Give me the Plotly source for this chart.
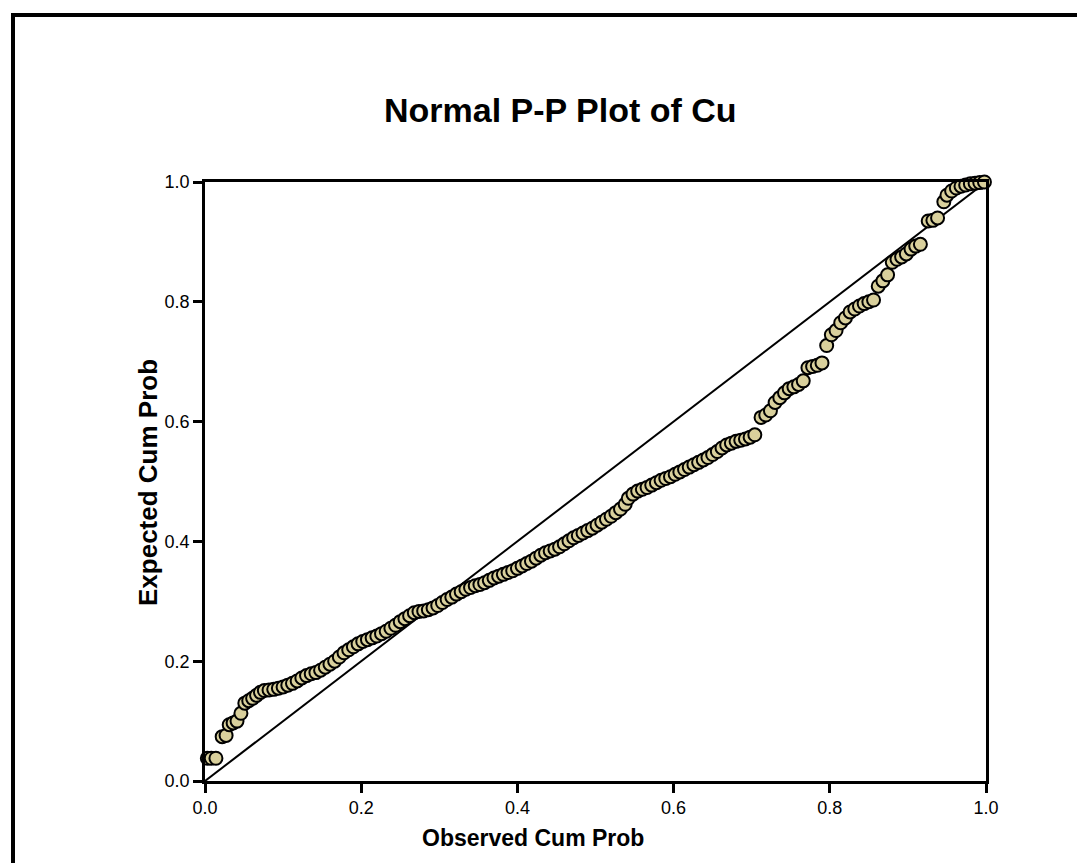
import plotly.graph_objects as go

# Observed cumulative probability (x) and expected cumulative probability (y)
observed_cum_prob = [
    0.003, 0.008, 0.014, 0.022, 0.027, 0.031, 0.036, 0.041, 0.046, 0.051,
    0.056, 0.061, 0.066, 0.071, 0.076, 0.082, 0.088, 0.094, 0.100, 0.106,
    0.112, 0.118, 0.124, 0.130, 0.136, 0.142, 0.148, 0.154, 0.160, 0.166,
    0.172, 0.178, 0.184, 0.190, 0.196, 0.202, 0.208, 0.214, 0.220, 0.226,
    0.232, 0.238, 0.244, 0.250, 0.256, 0.262, 0.268, 0.274, 0.280, 0.286,
    0.292, 0.298, 0.304, 0.310, 0.316, 0.322, 0.328, 0.334, 0.340, 0.346,
    0.352, 0.358, 0.364, 0.370, 0.376, 0.382, 0.388, 0.394, 0.400, 0.406,
    0.412, 0.418, 0.424, 0.430, 0.436, 0.442, 0.448, 0.454, 0.460, 0.466,
    0.472, 0.478, 0.484, 0.490, 0.496, 0.502, 0.508, 0.514, 0.520, 0.526,
    0.532, 0.538, 0.542, 0.548, 0.554, 0.560, 0.566, 0.572, 0.578, 0.584,
    0.590, 0.596, 0.602, 0.608, 0.614, 0.620, 0.626, 0.632, 0.638, 0.644,
    0.650, 0.656, 0.662, 0.668, 0.674, 0.680, 0.686, 0.692, 0.698, 0.704,
    0.712, 0.718, 0.724, 0.730, 0.736, 0.742, 0.748, 0.754, 0.760, 0.766,
    0.772, 0.778, 0.784, 0.790, 0.796, 0.802, 0.808, 0.814, 0.820, 0.826,
    0.832, 0.838, 0.844, 0.850, 0.856, 0.862, 0.868, 0.874, 0.880, 0.886,
    0.892, 0.898, 0.904, 0.910, 0.916, 0.926, 0.932, 0.938, 0.946, 0.950,
    0.956, 0.962, 0.968, 0.974, 0.980, 0.986, 0.992, 0.998,
]
expected_cum_prob = [
    0.038, 0.038, 0.038, 0.074, 0.076, 0.094, 0.097, 0.100, 0.113, 0.130,
    0.134, 0.138, 0.143, 0.148, 0.151, 0.152, 0.153, 0.155, 0.157, 0.160,
    0.163, 0.167, 0.172, 0.176, 0.179, 0.181, 0.185, 0.190, 0.195, 0.200,
    0.207, 0.214, 0.219, 0.224, 0.229, 0.233, 0.236, 0.239, 0.242, 0.246,
    0.250, 0.255, 0.260, 0.266, 0.271, 0.276, 0.281, 0.283, 0.284, 0.286,
    0.289, 0.293, 0.298, 0.303, 0.307, 0.312, 0.316, 0.320, 0.323, 0.326,
    0.328, 0.331, 0.335, 0.339, 0.342, 0.345, 0.348, 0.351, 0.355, 0.359,
    0.363, 0.367, 0.372, 0.377, 0.381, 0.384, 0.387, 0.391, 0.396, 0.401,
    0.406, 0.410, 0.414, 0.418, 0.422, 0.427, 0.432, 0.437, 0.442, 0.448,
    0.454, 0.462, 0.472, 0.479, 0.484, 0.487, 0.490, 0.494, 0.498, 0.502,
    0.505, 0.508, 0.512, 0.516, 0.520, 0.524, 0.528, 0.532, 0.536, 0.540,
    0.545, 0.550, 0.556, 0.561, 0.564, 0.567, 0.569, 0.571, 0.574, 0.578,
    0.607, 0.611, 0.618, 0.632, 0.640, 0.648, 0.655, 0.658, 0.662, 0.668,
    0.690, 0.692, 0.694, 0.698, 0.727, 0.745, 0.752, 0.765, 0.773, 0.783,
    0.788, 0.793, 0.797, 0.800, 0.803, 0.826, 0.835, 0.845, 0.866, 0.871,
    0.875, 0.880, 0.888, 0.893, 0.896, 0.935, 0.936, 0.940, 0.967, 0.978,
    0.985, 0.990, 0.993, 0.995, 0.997, 0.998, 0.999, 1.000,
]
reference_line = [0.0, 1.0]
tick_values = [0.0, 0.2, 0.4, 0.6, 0.8, 1.0]
tick_labels = ["0.0", "0.2", "0.4", "0.6", "0.8", "1.0"]

W, H = 1085, 863
L, R, T, B = 197, 978, 174, 773  # plot area pixel edges


def px_x(p):
    return (p - L) / (R - L)


def px_y(p):
    return (B - p) / (B - T)


fig = go.Figure()
fig.add_trace(go.Scatter(
    x=reference_line, y=reference_line, mode="lines",
    line=dict(color="black", width=2), hoverinfo="skip", showlegend=False,
))
fig.add_trace(go.Scatter(
    x=observed_cum_prob, y=expected_cum_prob, mode="markers",
    marker=dict(size=13, color="#d9d09c", line=dict(color="black", width=2)),
    showlegend=False, cliponaxis=False,
))

font = "Liberation Sans, Arial, sans-serif"
axis_common = dict(
    range=[0, 1], tickvals=tick_values, ticktext=tick_labels,
    showgrid=False, zeroline=False, showline=True, linecolor="black",
    linewidth=2.5, mirror=True, ticks="outside", ticklen=9, tickwidth=2.5,
    tickcolor="black", tickfont=dict(family=font, size=18, color="black"),
)
fig.update_xaxes(**axis_common)
fig.update_yaxes(**axis_common)

fig.update_layout(
    width=W, height=H,
    margin=dict(l=L, r=W - R, t=T, b=H - B, pad=0),
    plot_bgcolor="white", paper_bgcolor="white",
    font=dict(family=font, color="black"),
    annotations=[
        dict(text="<b>Normal P-P Plot of Cu</b>", x=px_x(552), y=px_y(102),
             xref="paper", yref="paper", showarrow=False,
             xanchor="center", yanchor="middle", font=dict(size=34)),
        dict(text="<b>Observed Cum Prob</b>", x=px_x(525), y=px_y(830),
             xref="paper", yref="paper", showarrow=False,
             xanchor="center", yanchor="middle", font=dict(size=23)),
        dict(text="<b>Expected Cum Prob</b>", x=px_x(140), y=px_y(475),
             xref="paper", yref="paper", showarrow=False, textangle=-90,
             xanchor="center", yanchor="middle", font=dict(size=26)),
    ],
    shapes=[
        dict(type="line", xref="paper", yref="paper",
             x0=px_x(5), x1=px_x(5), y0=px_y(5), y1=px_y(870),
             line=dict(color="black", width=4)),
        dict(type="line", xref="paper", yref="paper",
             x0=px_x(3), x1=px_x(1090), y0=px_y(7), y1=px_y(7),
             line=dict(color="black", width=4)),
    ],
)

fig.write_html("out.html")
